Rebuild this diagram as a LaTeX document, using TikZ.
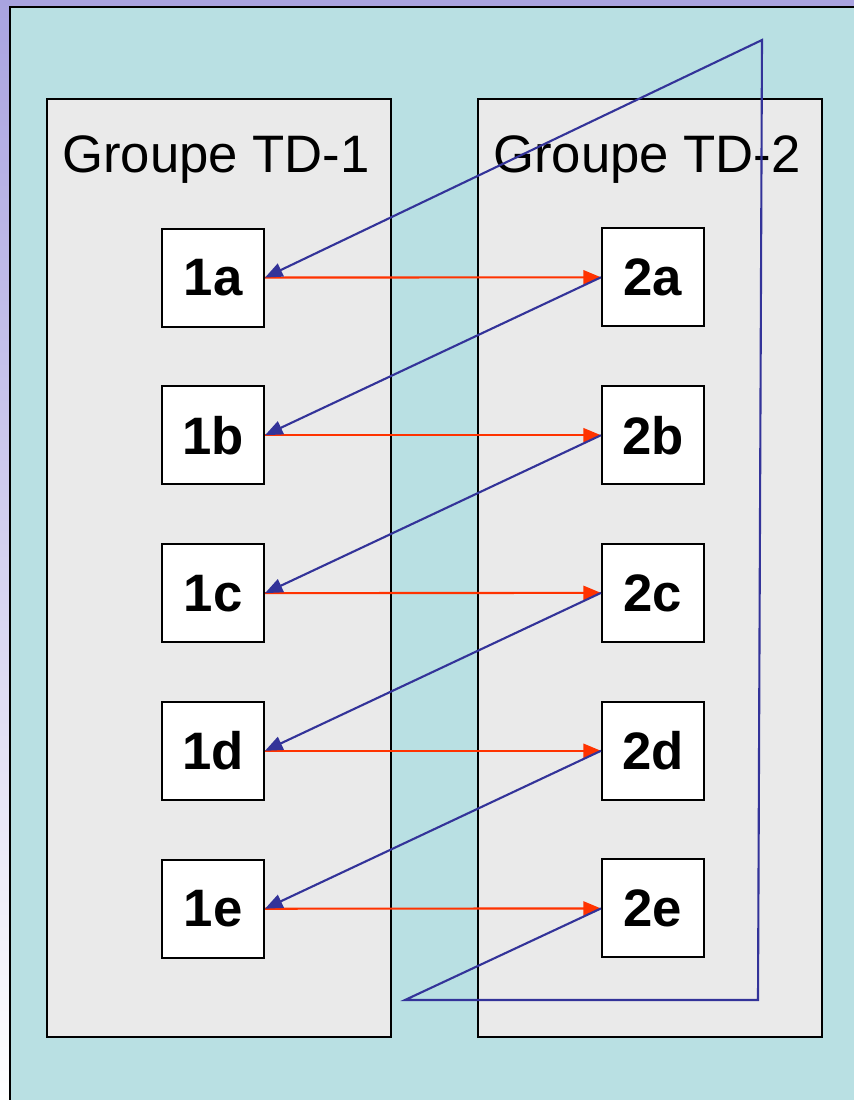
\documentclass[tikz,border=0pt]{standalone}
\usepackage{fontspec}
\setmainfont{Liberation Sans}
\usepackage{xcolor}
\usetikzlibrary{matrix,arrows.meta}

\definecolor{slidetop}{HTML}{A9A3E0}
\definecolor{panelteal}{HTML}{B9E0E3}
\definecolor{groupgray}{HTML}{EAEAEA}
\definecolor{swapblue}{HTML}{333399}
\definecolor{swapred}{HTML}{FF3300}

\begin{document}
\begin{tikzpicture}[x=0.02cm,y=-0.02cm,
    groupbox/.style={draw=black,fill=groupgray,line width=1.1pt},
    grouptitle/.style={anchor=base west,inner sep=0pt,font=\fontsize{30}{32}\selectfont},
    studbox/.style={draw=black,fill=white,line width=1.1pt,inner sep=0pt,
      minimum width=2.04cm,minimum height=1.96cm,font=\fontsize{30}{32}\selectfont\bfseries},
    redarrow/.style={draw=swapred,line width=1.2pt,-{Triangle[length=10pt,width=8pt]}},
    bluearrow/.style={draw=swapblue,line width=1.2pt,line join=miter,-{Triangle[length=10pt,width=8pt]}}]
  \useasboundingbox (0,0) rectangle (854,1100);
  \shade[top color=slidetop,bottom color=white] (0,0) rectangle (854,1100);
  \fill[panelteal] (10,7) rectangle (854,1100);
  \draw[line width=1.4pt] (10,1100) -- (10,7) -- (854,7);
  % the two groups
  \draw[groupbox] (47,99) rectangle (391,1037);
  \draw[groupbox] (478,99) rectangle (822,1037);
  \node[grouptitle] (title1) at (62,172) {Groupe TD-1};
  \node[grouptitle] (title2) at (493,172) {Groupe TD-2};
  \matrix (m) at (433,593) [matrix of nodes,nodes={studbox},row sep=1.155cm,column sep=6.72cm]
          {
            1a \pgfmatrixnextcell 2a \\
            1b \pgfmatrixnextcell 2b \\
            1c \pgfmatrixnextcell 2c \\
            1d \pgfmatrixnextcell 2d \\
            1e \pgfmatrixnextcell 2e \\};
  \foreach \r in {1,...,5}
    \draw[redarrow] (m-\r-1.east) -- (m-\r-2.west);
  \foreach \r [evaluate=\r as \n using int(\r+1)] in {1,...,4}
    \draw[bluearrow] (m-\r-2.west) -- (m-\n-1.east);
  % wrap round from 2e back to 1a
  \coordinate (loopa) at (405,1000);
  \coordinate (loopb) at (758,1000);
  \coordinate (loopc) at (762,40);
  \draw[bluearrow] (m-5-2.west) -- (loopa) -- (loopb) -- (loopc) -- (m-1-1.east);
\end{tikzpicture}
\end{document}
